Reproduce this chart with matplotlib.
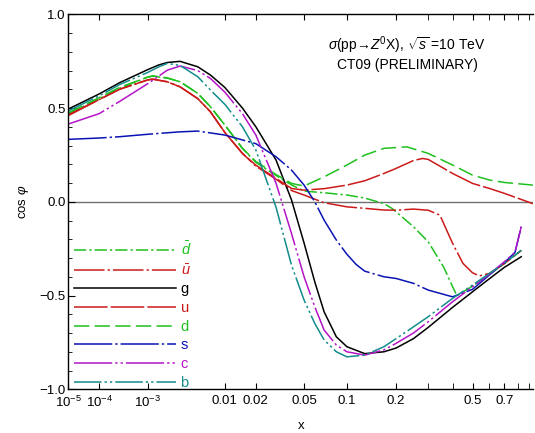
"""Correlation cosine between sigma(pp->Z0 X) and parton distributions, CT09."""

import matplotlib

matplotlib.use("Agg")
import matplotlib.pyplot as plt
import numpy as np
from matplotlib.ticker import FixedLocator, FixedFormatter, MultipleLocator

plt.rcParams["font.family"] = ["Liberation Sans", "DejaVu Sans"]
plt.rcParams["mathtext.fontset"] = "custom"
plt.rcParams["mathtext.rm"] = "Liberation Sans"
plt.rcParams["mathtext.it"] = "Liberation Sans:italic"
plt.rcParams["font.size"] = 9.5

# --- data ----------------------------------------------------------------
x_g = [1e-5, 1e-4, 3e-4, 1e-3, 1.5e-3, 2e-3, 3e-3, 5e-3, 7e-3, 0.01, 0.015, 0.02,
       0.03, 0.04, 0.05, 0.06, 0.07, 0.085, 0.1, 0.13, 0.17, 0.2, 0.25, 0.3,
       0.4, 0.5, 0.6, 0.7, 0.83]
y_g = [0.495, 0.575, 0.635, 0.705, 0.73, 0.743, 0.749, 0.72, 0.676, 0.61, 0.50, 0.40,
       0.222, 0.01, -0.22, -0.427, -0.587, -0.72, -0.773, -0.81, -0.80, -0.78, -0.73, -0.67,
       -0.563, -0.48, -0.41, -0.35, -0.293]

x_b = [1e-5, 1e-4, 3e-4, 1e-3, 1.5e-3, 2e-3, 3e-3, 5e-3, 7e-3, 0.01, 0.015, 0.02,
       0.03, 0.04, 0.05, 0.06, 0.07, 0.085, 0.1, 0.13, 0.17, 0.2, 0.25, 0.3,
       0.4, 0.5, 0.6, 0.7, 0.83]
y_b = [0.485, 0.565, 0.625, 0.69, 0.72, 0.738, 0.727, 0.667, 0.596, 0.52, 0.40, 0.276,
       -0.03, -0.338, -0.524, -0.649, -0.737, -0.80, -0.827, -0.818, -0.773, -0.73, -0.667, -0.613,
       -0.515, -0.444, -0.382, -0.329, -0.258]

x_c = [1e-5, 1e-4, 3e-4, 1e-3, 2e-3, 3e-3, 5e-3, 7e-3, 0.01, 0.015, 0.02,
       0.03, 0.04, 0.05, 0.06, 0.07, 0.085, 0.1, 0.13, 0.17, 0.2, 0.25, 0.3,
       0.4, 0.5, 0.6, 0.7, 0.78, 0.83]
y_c = [0.415, 0.47, 0.535, 0.63, 0.702, 0.724, 0.70, 0.658, 0.585, 0.47, 0.356,
       0.098, -0.169, -0.40, -0.56, -0.684, -0.764, -0.80, -0.818, -0.79, -0.755, -0.70, -0.64,
       -0.533, -0.453, -0.386, -0.32, -0.27, -0.133]

x_s = [1e-5, 1e-4, 3e-4, 1e-3, 2e-3, 3e-3, 5e-3, 0.01, 0.02, 0.03, 0.04, 0.05,
       0.06, 0.07, 0.085, 0.1, 0.115, 0.13, 0.17, 0.2, 0.25, 0.3, 0.4, 0.5,
       0.6, 0.7, 0.78, 0.83]
y_s = [0.333, 0.34, 0.347, 0.36, 0.368, 0.373, 0.377, 0.356, 0.31, 0.24, 0.169, 0.089,
       0.0, -0.098, -0.204, -0.28, -0.335, -0.37, -0.40, -0.409, -0.435, -0.471, -0.507, -0.467,
       -0.39, -0.325, -0.27, -0.133]

x_d = [1e-5, 1e-4, 3e-4, 1e-3, 1.2e-3, 2e-3, 3e-3, 5e-3, 7e-3, 0.01, 0.015, 0.02,
       0.03, 0.04, 0.05, 0.07, 0.1, 0.13, 0.17, 0.23, 0.3, 0.4, 0.5, 0.6,
       0.7, 0.93]
y_d = [0.475, 0.555, 0.61, 0.665, 0.672, 0.66, 0.64, 0.578, 0.507, 0.41, 0.285, 0.215,
       0.145, 0.098, 0.084, 0.133, 0.196, 0.249, 0.285, 0.293, 0.258, 0.196, 0.142, 0.116,
       0.103, 0.089]

x_dbar = [1e-5, 1e-4, 3e-4, 1e-3, 1.2e-3, 2e-3, 3e-3, 5e-3, 7e-3, 0.01, 0.015, 0.02,
          0.03, 0.04, 0.05, 0.07, 0.1, 0.13, 0.17, 0.19, 0.25, 0.3, 0.36, 0.4,
          0.42, 0.5, 0.6, 0.7, 0.83]
y_dbar = [0.47, 0.55, 0.605, 0.665, 0.67, 0.66, 0.64, 0.578, 0.507, 0.41, 0.285, 0.21,
          0.14, 0.09, 0.057, 0.048, 0.036, 0.02, -0.01, -0.036, -0.133, -0.213, -0.347, -0.453,
          -0.50, -0.45, -0.385, -0.33, -0.26]

x_u = [1e-5, 1e-4, 3e-4, 1e-3, 1.2e-3, 2e-3, 3e-3, 5e-3, 7e-3, 0.01, 0.015, 0.02,
       0.03, 0.04, 0.05, 0.07, 0.1, 0.13, 0.17, 0.2, 0.25, 0.28, 0.3, 0.4,
       0.5, 0.6, 0.7, 0.93]
y_u = [0.46, 0.545, 0.60, 0.65, 0.654, 0.64, 0.613, 0.55, 0.48, 0.37, 0.258, 0.195,
       0.125, 0.071, 0.062, 0.07, 0.089, 0.112, 0.151, 0.178, 0.22, 0.231, 0.226, 0.151,
       0.098, 0.071, 0.045, -0.01]

x_ubar = [1e-5, 1e-4, 3e-4, 1e-3, 1.2e-3, 2e-3, 3e-3, 5e-3, 7e-3, 0.01, 0.015, 0.02,
          0.03, 0.04, 0.05, 0.07, 0.1, 0.13, 0.17, 0.2, 0.25, 0.3, 0.345, 0.4,
          0.45, 0.5, 0.54, 0.6, 0.7, 0.83]
y_ubar = [0.465, 0.545, 0.60, 0.65, 0.654, 0.64, 0.613, 0.55, 0.48, 0.37, 0.258, 0.19,
          0.12, 0.06, 0.036, -0.005, -0.027, -0.035, -0.044, -0.045, -0.039, -0.045, -0.071, -0.222,
          -0.329, -0.379, -0.395, -0.382, -0.33, -0.26]

GREEN = "#1fc01f"
RED = "#cc1a1a"
BLUE = "#0a14b4"
MAGENTA = "#b414c8"
TEAL = "#138c8c"

series = [
    (x_dbar, y_dbar, GREEN, (0, (8, 2, 1.5, 2)), r"$\bar{d}$"),
    (x_ubar, y_ubar, RED, (0, (20, 2, 1.5, 2)), r"$\bar{u}$"),
    (x_g, y_g, "black", "-", "g"),
    (x_u, y_u, RED, (0, (22, 2)), "u"),
    (x_d, y_d, GREEN, (0, (10, 3.5)), "d"),
    (x_s, y_s, BLUE, (0, (25, 2, 1.5, 2)), "s"),
    (x_c, y_c, MAGENTA, (0, (25, 2, 1.5, 2, 1.5, 2)), "c"),
    (x_b, y_b, TEAL, (0, (18, 2, 1.5, 2, 1.5, 2)), "b"),
]


def fwd(v):
    return np.power(np.clip(v, 1e-12, None), 0.2)


def inv(v):
    return np.power(np.clip(v, 0, None), 5.0)


fig = plt.figure(figsize=(5.35, 4.33), dpi=100)
ax = fig.add_axes([0.128, 0.101, 0.868, 0.866])
ax.set_xscale("function", functions=(fwd, inv))

ax.axhline(0.0, color="#707070", lw=1.0, zorder=1)
for xs, ys, color, style, label in series:
    ax.plot(xs, ys, color=color, ls=style, lw=1.1, label=label, zorder=2)

ax.set_xlim(1e-5, 0.93)
ax.set_ylim(-1.0, 1.0)

major_x = [1e-5, 1e-4, 1e-3, 0.01, 0.02, 0.05, 0.1, 0.2, 0.5, 0.7]
major_lbl = [r"$10^{-5}$", r"$10^{-4}$", r"$10^{-3}$", "0.01", "0.02", "0.05",
             "0.1", "0.2", "0.5", "0.7"]
minor_x = [0.3, 0.4, 0.6, 0.8, 0.9]
ax.xaxis.set_major_locator(FixedLocator(major_x))
ax.xaxis.set_major_formatter(FixedFormatter(major_lbl))
ax.xaxis.set_minor_locator(FixedLocator(minor_x))
ax.yaxis.set_major_locator(MultipleLocator(0.5))
ax.yaxis.set_minor_locator(MultipleLocator(0.1))
ax.yaxis.set_major_formatter(lambda v, p: f"{v:.1f}".replace("-", "\u2212"))

ax.tick_params(axis="x", which="both", direction="in", length=4, top=True, pad=4)
ax.tick_params(axis="y", which="major", direction="in", length=5, pad=2)
ax.tick_params(axis="y", which="minor", direction="in", length=3)
ax.spines["right"].set_visible(False)
for side in ("left", "bottom", "top"):
    ax.spines[side].set_linewidth(1.0)

ax.set_xlabel("x", labelpad=7)
ax.set_ylabel(r"cos $\varphi$", labelpad=6)

ax.text(0.729, 0.918, r"$\sigma$(pp→$Z^0$X), $\sqrt{s}$ =10 TeV",
        transform=ax.transAxes, ha="center", va="center", fontsize=10)
ax.text(0.729, 0.865, "CT09 (PRELIMINARY)", transform=ax.transAxes,
        ha="center", va="center", fontsize=10)

leg = ax.legend(loc="upper left", bbox_to_anchor=(0.012, 0.397), frameon=False,
                handlelength=7.0, handletextpad=0.3, labelspacing=0.32,
                borderpad=0.0, borderaxespad=0.0, fontsize=10.5)
for text, (_, _, color, _, _) in zip(leg.get_texts(), series):
    text.set_color(color)

fig.savefig("out.png", dpi=100, facecolor="white")
plt.close(fig)
